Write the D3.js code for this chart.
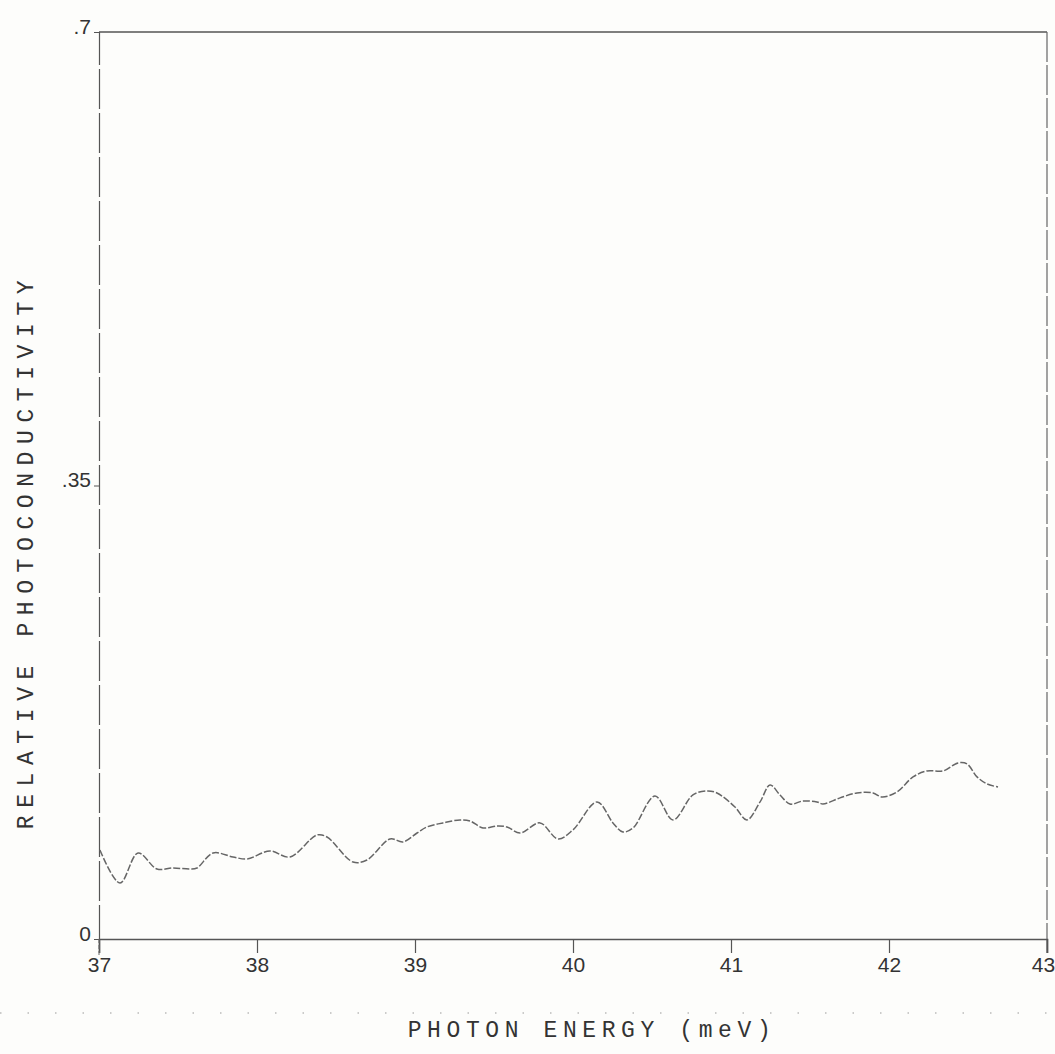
<!DOCTYPE html>
<html>
<head>
<meta charset="utf-8">
<title>Relative photoconductivity</title>
<script src="https://d3js.org/d3.v7.min.js"></script>
<style>
  body { margin: 0; background: #fdfdfb; }
  svg { display: block; }
  .tick text { font-family: "Liberation Sans", Arial, sans-serif; font-size: 21px; fill: #333; }
  .tick line, .domain { stroke: #555; }
  .title { font-family: "Liberation Mono", "Courier New", monospace; font-size: 23px; fill: #333; }
</style>
</head>
<body>
<svg id="chart" width="1055" height="1054"></svg>
<script>
// photon energy (meV) and relative photoconductivity
var energy = [37.006, 37.133, 37.247, 37.367, 37.468, 37.576, 37.620, 37.722, 37.848, 37.937,
  38.082, 38.209, 38.380, 38.443, 38.608, 38.696, 38.842, 38.924, 39.013, 39.076,
  39.177, 39.285, 39.348, 39.430, 39.519, 39.582, 39.665, 39.791, 39.905, 40.000,
  40.152, 40.253, 40.316, 40.380, 40.519, 40.633, 40.759, 40.848, 40.911, 41.025,
  41.101, 41.184, 41.247, 41.310, 41.373, 41.456, 41.544, 41.582, 41.690, 41.797,
  41.899, 41.956, 42.051, 42.152, 42.241, 42.342, 42.437, 42.494, 42.557, 42.620, 42.690];
var photocond = [0.0687, 0.0432, 0.0664, 0.0540, 0.0548, 0.0540, 0.0548, 0.0664, 0.0633, 0.0618,
  0.0679, 0.0633, 0.0803, 0.0787, 0.0594, 0.0610, 0.0772, 0.0749, 0.0818, 0.0865,
  0.0896, 0.0919, 0.0911, 0.0857, 0.0872, 0.0865, 0.0818, 0.0896, 0.0772, 0.0842,
  0.1058, 0.0896, 0.0826, 0.0857, 0.1104, 0.0919, 0.1112, 0.1143, 0.1127, 0.1019,
  0.0919, 0.1058, 0.1189, 0.1112, 0.1042, 0.1065, 0.1058, 0.1042, 0.1089, 0.1127,
  0.1127, 0.1096, 0.1135, 0.1251, 0.1297, 0.1297, 0.1359, 0.1351, 0.1251, 0.1197, 0.1173];
var xTicks = [37, 38, 39, 40, 41, 42, 43];
var yTicks = [0, 0.35, 0.7];
var yTickLabels = ["0", ".35", ".7"];

var svg = d3.select("#chart"),
    margin = { top: 32, right: 8, bottom: 115, left: 99 },
    width = 1055 - margin.left - margin.right,
    height = 1054 - margin.top - margin.bottom;

var x = d3.scaleLinear().domain([37, 43]).range([0, width]);
var y = d3.scaleLinear().domain([0, 0.7]).range([height, 0]);

var g = svg.append("g")
  .attr("transform", "translate(" + margin.left + "," + margin.top + ")");

// frame: top and right
g.append("line").attr("x1", 0).attr("x2", width).attr("y1", 0).attr("y2", 0)
  .attr("stroke", "#555").attr("stroke-width", 1.5);
g.append("line").attr("x1", width).attr("x2", width).attr("y1", 0).attr("y2", height + 16)
  .attr("stroke", "#666").attr("stroke-width", 1.2).attr("stroke-dasharray", "30,3");

// x axis
var xAxis = g.append("g")
  .attr("transform", "translate(0," + height + ")")
  .call(d3.axisBottom(x).tickValues(xTicks).tickSize(14).tickPadding(4).tickFormat(d3.format("d")));
xAxis.select(".domain").attr("stroke-width", 1.6);
xAxis.selectAll(".tick line").attr("stroke-width", 1.2);
xAxis.selectAll(".tick text").filter(function (d) { return d === 43; }).attr("dx", "-4");

// y axis
var yAxis = g.append("g")
  .call(d3.axisLeft(y).tickValues(yTicks).tickSize(5).tickPadding(3)
    .tickFormat(function (d, i) { return yTickLabels[i]; }));
yAxis.select(".domain").attr("stroke-dasharray", "40,4").attr("stroke-width", 1.2);
yAxis.selectAll(".tick text").attr("dy", "0.05em");
g.append("line").attr("x1", 0).attr("x2", 0).attr("y1", height).attr("y2", height + 16)
  .attr("stroke", "#666").attr("stroke-dasharray", "4,2");

// data curve
var line = d3.line()
  .x(function (d, i) { return x(energy[i]); })
  .y(function (d) { return y(d); })
  .curve(d3.curveCatmullRom.alpha(0.5));

g.append("path")
  .datum(photocond)
  .attr("fill", "none")
  .attr("stroke", "#666")
  .attr("stroke-width", 1.5)
  .attr("stroke-dasharray", "7,2")
  .attr("d", line);

// axis titles
svg.append("text")
  .attr("class", "title")
  .attr("x", 592)
  .attr("y", 1037)
  .attr("text-anchor", "middle")
  .attr("letter-spacing", "5.6px")
  .text("PHOTON ENERGY (meV)");

svg.append("text")
  .attr("class", "title")
  .attr("transform", "translate(33,551) rotate(-90)")
  .attr("text-anchor", "middle")
  .attr("letter-spacing", "7.6px")
  .text("RELATIVE PHOTOCONDUCTIVITY");

// faint dotted rule under the x axis
svg.append("line")
  .attr("x1", 0).attr("x2", 1055).attr("y1", 1013).attr("y2", 1013)
  .attr("stroke", "#bbb").attr("stroke-width", 1.5)
  .attr("stroke-dasharray", "1.5,26");
</script>
</body>
</html>
